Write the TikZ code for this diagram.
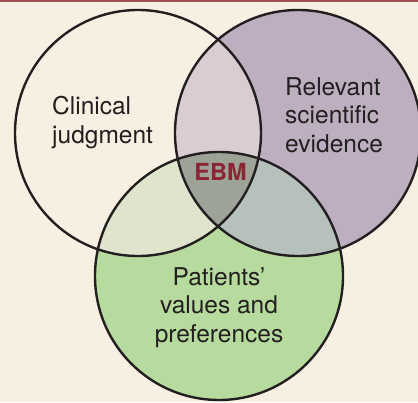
\documentclass[tikz,border=0pt]{standalone}
\usepackage{fontspec}
\setmainfont{TeX Gyre Heros}
\definecolor{paper}{HTML}{F7F0E2}
\definecolor{rule}{HTML}{A0504E}
\definecolor{ink}{HTML}{231F20}
\definecolor{evid}{HTML}{BDAFC0}
\definecolor{pat}{HTML}{B7DA9E}
\definecolor{judgevid}{HTML}{D9CDD1}
\definecolor{judgpat}{HTML}{DFE4CD}
\definecolor{evidpat}{HTML}{B6C1BB}
\definecolor{core}{HTML}{9DA396}
\definecolor{ebmred}{HTML}{8C2434}
\begin{document}
\begin{tikzpicture}[x=1pt,y=-1pt,
  ring/.style={draw=ink,line width=2.4pt},
  label/.style={text=ink,inner sep=0pt,font=\fontsize{24.5}{28.5}\selectfont},
]
\useasboundingbox (0,0) rectangle (418,402);
\clip (0,0) rectangle (418,402);
\fill[paper] (0,0) rectangle (418,402);
\draw[rule,line width=1.6pt] (0,0.8) -- (418,0.8);

% circle centres
\coordinate (J) at (138,133);
\coordinate (E) at (298,133);
\coordinate (P) at (219,276);
\def\rJ{123pt}\def\rE{123pt}\def\rP{124pt}

% base fills
\fill[evid] (E) circle[radius=\rE];
\fill[pat] (P) circle[radius=\rP];
% pairwise overlaps
\begin{scope}
  \clip (J) circle[radius=\rJ];
  \fill[judgevid] (E) circle[radius=\rE];
  \fill[judgpat] (P) circle[radius=\rP];
\end{scope}
\begin{scope}
  \clip (E) circle[radius=\rE];
  \fill[evidpat] (P) circle[radius=\rP];
\end{scope}
% triple overlap
\begin{scope}
  \clip (J) circle[radius=\rJ];
  \clip (E) circle[radius=\rE];
  \fill[core] (P) circle[radius=\rP];
\end{scope}
% outlines
\draw[ring] (J) circle[radius=\rJ];
\draw[ring] (E) circle[radius=\rE];
\draw[ring] (P) circle[radius=\rP];

% labels (base anchor sits on the last line)
\node[label,anchor=base west,align=left] (lj) at (52,143) {Clinical\\judgment};
\node[label,anchor=base west,align=left] (le) at (285,152) {Relevant\\scientific\\evidence};
\node[label,anchor=base,align=center] (lp) at (219,342) {Patients’\\values and\\preferences};
\node[inner sep=0pt,anchor=base,text=ebmred,font=\fontsize{23.5}{28}\selectfont\bfseries] (ebm) at (220.5,180) {EBM};
\end{tikzpicture}
\end{document}
